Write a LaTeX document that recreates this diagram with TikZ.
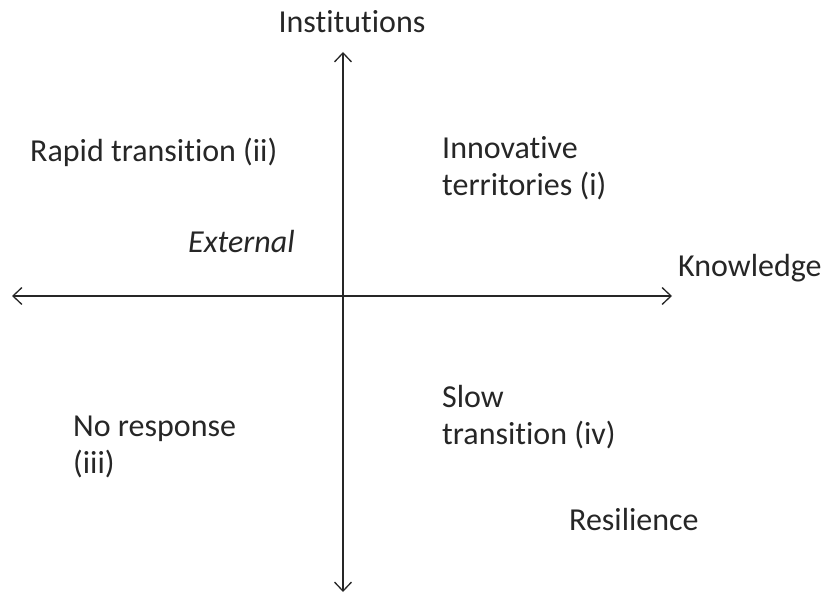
\documentclass[tikz,border=0pt]{standalone}
\usepackage{fontspec}
\setmainfont{Carlito}[Ligatures=CommonOff]
\usetikzlibrary{arrows.meta}
\definecolor{ink}{HTML}{262626}
\begin{document}
\begin{tikzpicture}[x=1pt,y=-1pt,
  axis/.style={draw=ink,line width=1.3pt,{Straight Barb[length=9pt,width=17pt,line width=1.3pt]}-{Straight Barb[length=9pt,width=17pt,line width=1.3pt]}},
  label/.style={text=ink,inner sep=0pt,align=left,font=\fontsize{32}{37.5}\selectfont}]
  \useasboundingbox (0,0) rectangle (825,593);
  % axes
  \coordinate (top) at (343,52);
  \coordinate (bottom) at (343,592);
  \coordinate (left) at (12,296);
  \coordinate (right) at (672,296);
  \draw[axis] (top) -- (bottom);
  \draw[axis] (left) -- (right);
  % axis titles
  \node[label] (inst) at (352,22) {Institutions};
  \node[label,anchor=west] (know) at (678,268) {Knowledge};
  % quadrant labels
  \node[label,anchor=west] (ii) at (30,152) {Rapid transition (ii)};
  \node[label,anchor=west] (i) at (442,168) {Innovative\\territories (i)};
  \node[label,anchor=west,font=\fontsize{32}{37.5}\selectfont\itshape] (ext) at (188,242) {External};
  \node[label,anchor=west] (iii) at (73,447) {No response\\(iii)};
  \node[label,anchor=west] (iv) at (442,417) {Slow\\transition (iv)};
  \node[label,anchor=west] (res) at (569,520) {Resilience};
\end{tikzpicture}
\end{document}
